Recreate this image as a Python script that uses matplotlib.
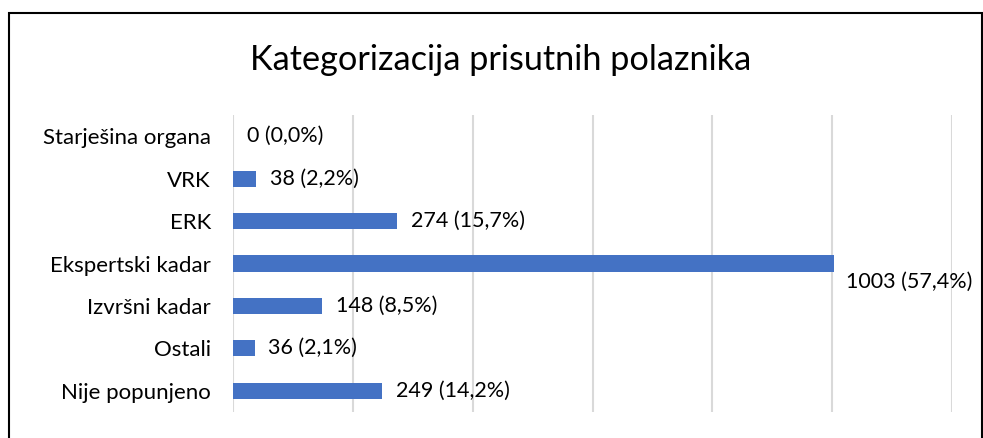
import matplotlib.pyplot as plt
from matplotlib.patches import Rectangle

# Data
categories = ["Starješina organa", "VRK", "ERK", "Ekspertski kadar",
              "Izvršni kadar", "Ostali", "Nije popunjeno"]
counts = [0, 38, 274, 1003, 148, 36, 249]
percents = ["0,0%", "2,2%", "15,7%", "57,4%", "8,5%", "2,1%", "14,2%"]

W, H = 983, 438
fig = plt.figure(figsize=(W / 100, H / 100), dpi=100)
plt.rcParams['font.family'] = ['Lato', 'DejaVu Sans']

ax = fig.add_axes([233 / W, 1 - 412 / H, (952 - 233) / W, (412 - 115) / H])

y = list(range(len(categories)))
ax.barh(y, counts, height=0.38, color='#4472C4', zorder=3)
ax.set_ylim(len(categories) - 0.5, -0.5)
ax.set_xlim(0, 1200)
ax.set_xticks(range(0, 1201, 200))
ax.xaxis.grid(True, color='#D9D9D9', linewidth=1.5, zorder=0)
ax.tick_params(axis='x', length=0, labelbottom=False)
ax.tick_params(axis='y', length=0, pad=16, labelsize=16)
ax.set_yticks(y)
ax.set_yticklabels(categories, color='#000000')
for s in ax.spines.values():
    s.set_visible(False)

for i, (c, p) in enumerate(zip(counts, percents)):
    if c > 900:
        # label falls below the bar end, like in the original
        ax.annotate(f"{c} ({p})", (c, i), xytext=(9, -13), textcoords='offset points',
                    va='center', ha='left', fontsize=15.5)
    else:
        ax.annotate(f"{c} ({p})", (c, i), xytext=(10, 0), textcoords='offset points',
                    va='center', ha='left', fontsize=15.5)

fig.text(501 / W, 1 - 60 / H, "Kategorizacija prisutnih polaznika",
         ha='center', va='center', fontsize=24.7)

# chart frame
fig.patches.append(Rectangle((9 / W, -0.1), (982 - 9) / W, 1.1 - 13 / H,
                             transform=fig.transFigure, fill=False,
                             edgecolor='black', linewidth=1.5))

fig.savefig("out.png", dpi=100)
